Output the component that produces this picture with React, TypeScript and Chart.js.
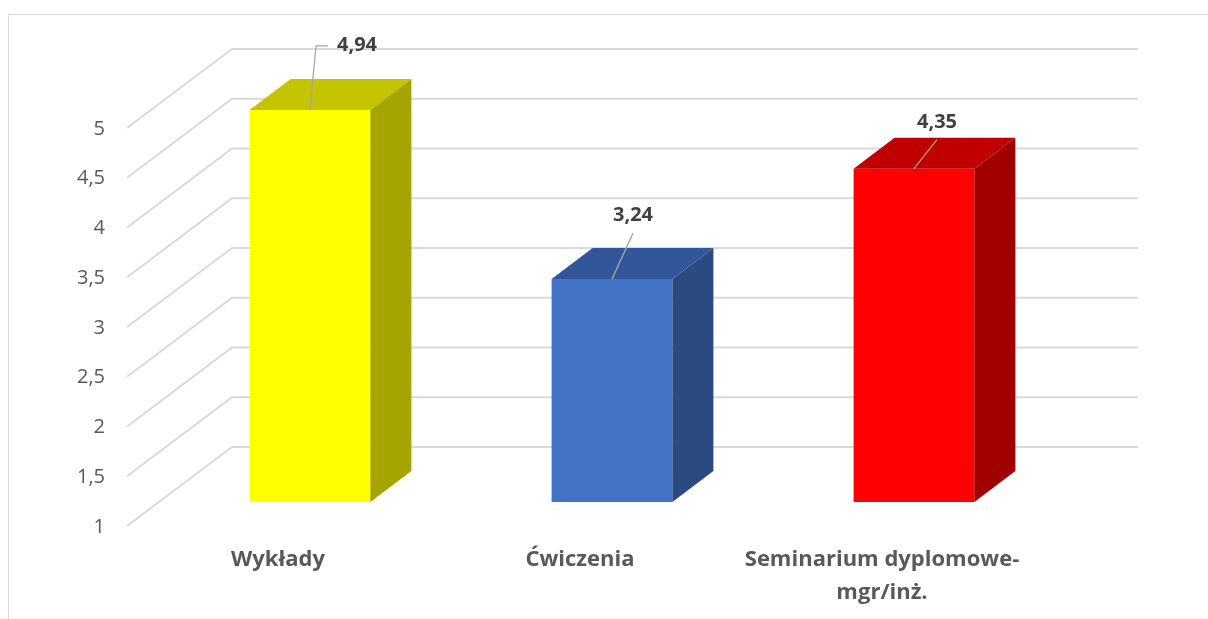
import React, { useEffect, useRef } from "react";
import { Chart, registerables } from "chart.js";

Chart.register(...registerables);

const categories: string[][] = [["Wykłady"], ["Ćwiczenia"], ["Seminarium dyplomowe-", "mgr/inż."]];
const values: number[] = [4.94, 3.24, 4.35];
const valueLabels: string[] = ["4,94", "3,24", "4,35"];
const yMin = 1;
const yMax = 5;
const yStep = 0.5;

const frontColors = ["#FFFF00", "#4472C4", "#FF0000"];
const topColors = ["#C4C400", "#32569A", "#C00000"];
const sideColors = ["#A5A500", "#2A4A80", "#A00000"];

// label placement relative to bar top-centre (style only)
const labelOffsets = [
  { lx: 47, ly: -65, pts: [[6, -64], [18, -64]] },
  { lx: 21, ly: -64, pts: [[21, -46]] },
  { lx: 23, ly: -46, pts: [[23, -29]] },
];

const FONT = "'Open Sans', 'DejaVu Sans', sans-serif";
const GRID = "#D9D9D9";
// 3D geometry
const FRONT_DX = 32, FRONT_DY = 24; // front plane relative to bar plane
const BACK_DX = 73, BACK_DY = 55; // back wall relative to bar plane
const BAR_DX = 41, BAR_DY = 31; // bar depth

const fmt = (v: number) => String(v).replace(".", ",");

const threeD = {
  id: "threeD",
  beforeDatasetsDraw(chart: any) {
    const { ctx, chartArea, scales } = chart;
    const y = scales.y;
    ctx.save();
    // outer frame
    ctx.strokeStyle = "#D9D9D9";
    ctx.lineWidth = 1;
    ctx.beginPath();
    ctx.moveTo(8.5, 619);
    ctx.lineTo(8.5, 14.5);
    ctx.lineTo(1208, 14.5);
    ctx.stroke();
    // gridlines
    ctx.strokeStyle = GRID;
    ctx.lineWidth = 2;
    for (let v = yMin; v <= yMax + 1e-9; v += yStep) {
      const py = y.getPixelForValue(v);
      ctx.beginPath();
      ctx.moveTo(chartArea.left - FRONT_DX, py + FRONT_DY);
      ctx.lineTo(chartArea.left + BACK_DX, py - BACK_DY);
      ctx.lineTo(chartArea.right + BACK_DX, py - BACK_DY);
      ctx.stroke();
      ctx.fillStyle = "#595959";
      ctx.font = `20px ${FONT}`;
      ctx.textAlign = "right";
      ctx.textBaseline = "middle";
      ctx.fillText(fmt(v), chartArea.left - FRONT_DX - 22, py + FRONT_DY + 1);
    }
    // category labels
    const x = scales.x;
    ctx.fillStyle = "#595959";
    ctx.font = `bold 22px ${FONT}`;
    ctx.textAlign = "center";
    ctx.textBaseline = "middle";
    categories.forEach((lines, i) => {
      const cx = x.getPixelForValue(i) - FRONT_DX;
      lines.forEach((ln, j) => {
        ctx.fillText(ln, cx, 560 + j * 33);
      });
    });
    ctx.restore();
  },
  afterDatasetsDraw(chart: any) {
    const { ctx } = chart;
    const meta = chart.getDatasetMeta(0);
    const base = chart.scales.y.getPixelForValue(yMin);
    ctx.save();
    meta.data.forEach((bar: any, i: number) => {
      const x = bar.x;
      const y = bar.y;
      const width = bar.width;
      const l = x - width / 2;
      const r = x + width / 2;
      // top face
      ctx.fillStyle = topColors[i];
      ctx.beginPath();
      ctx.moveTo(l, y);
      ctx.lineTo(r, y);
      ctx.lineTo(r + BAR_DX, y - BAR_DY);
      ctx.lineTo(l + BAR_DX, y - BAR_DY);
      ctx.closePath();
      ctx.fill();
      // side face
      ctx.fillStyle = sideColors[i];
      ctx.beginPath();
      ctx.moveTo(r, y);
      ctx.lineTo(r + BAR_DX, y - BAR_DY);
      ctx.lineTo(r + BAR_DX, base - BAR_DY);
      ctx.lineTo(r, base);
      ctx.closePath();
      ctx.fill();
      // leader line
      const off = labelOffsets[i];
      ctx.strokeStyle = "#A6A6A6";
      ctx.lineWidth = 1.3;
      ctx.beginPath();
      ctx.moveTo(x, y);
      off.pts.forEach((p) => ctx.lineTo(x + p[0], y + p[1]));
      ctx.stroke();
      // value label
      ctx.fillStyle = "#404040";
      ctx.font = `bold 20px ${FONT}`;
      ctx.textAlign = "center";
      ctx.textBaseline = "middle";
      ctx.fillText(valueLabels[i], x + off.lx, y + off.ly);
    });
    ctx.restore();
  },
};

export default function App() {
  const ref = useRef<HTMLCanvasElement | null>(null);
  useEffect(() => {
    if (!ref.current) return;
    const chart = new Chart(ref.current, {
      type: "bar",
      data: {
        labels: categories.map((c) => c.join(" ")),
        datasets: [
          {
            data: values,
            backgroundColor: frontColors,
            borderWidth: 0,
            barPercentage: 0.4,
            categoryPercentage: 1,
          },
        ],
      },
      options: {
        animation: false,
        responsive: false,
        maintainAspectRatio: false,
        layout: { padding: { left: 159, right: 143, top: 104, bottom: 117 } },
        plugins: { legend: { display: false }, tooltip: { enabled: false } },
        scales: {
          x: { display: false, offset: true },
          y: { display: false, min: yMin, max: yMax, ticks: { stepSize: yStep } },
        },
      },
      plugins: [threeD],
    });
    return () => chart.destroy();
  }, []);
  return (
    <div style={{ position: "fixed", left: 0, top: 0, width: 1208, height: 619, background: "#fff" }}>
      <canvas ref={ref} width={1208} height={619} style={{ width: 1208, height: 619, display: "block" }} />
    </div>
  );
}
